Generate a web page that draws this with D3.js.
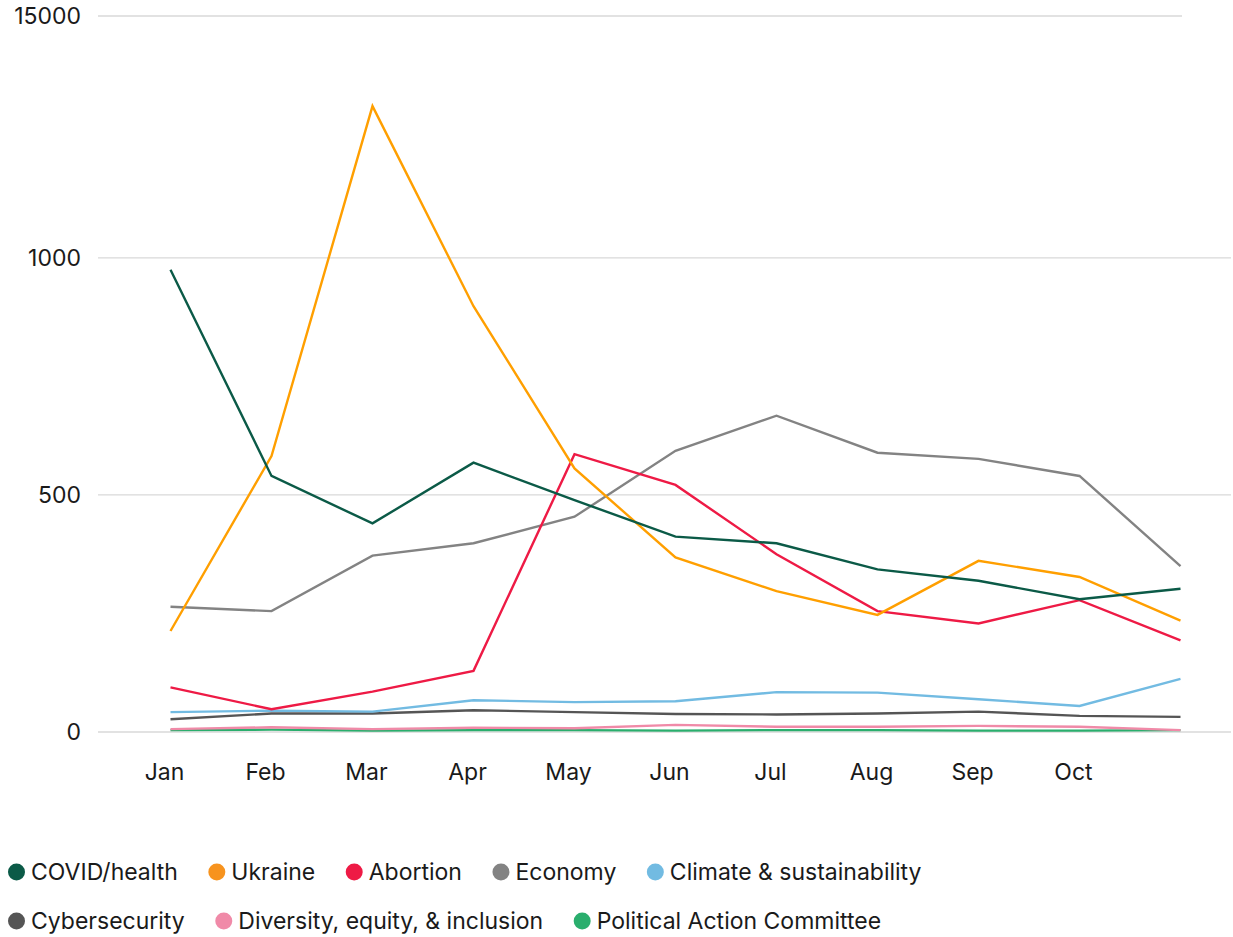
<!DOCTYPE html>
<html>
<head>
<meta charset="utf-8">
<script src="https://cdn.jsdelivr.net/npm/d3@7"></script>
<style>
  body { margin: 0; background: #fff; }
  svg { display: block; font-family: Inter, "Noto Sans", sans-serif; }
  .tick-label { font-size: 23px; fill: #1a1a1a; }
  .legend-label { font-size: 23px; fill: #1a1a1a; }
</style>
</head>
<body>
<div id="chart"></div>
<script>
const months = ["Jan", "Feb", "Mar", "Apr", "May", "Jun", "Jul", "Aug", "Sep", "Oct", "Nov"];
const monthLabels = ["Jan", "Feb", "Mar", "Apr", "May", "Jun", "Jul", "Aug", "Sep", "Oct", ""];

const covid = [975, 540, 440, 568, 489, 412, 398, 343, 319, 280, 302];
const ukraine = [213, 582, 1320, 898, 556, 368, 297, 247, 361, 327, 235];
const abortion = [94, 48, 85, 129, 586, 521, 375, 255, 229, 278, 193];
const economy = [264, 255, 372, 398, 454, 593, 667, 589, 576, 540, 350];
const climate = [42, 45, 43, 67, 63, 65, 84, 83, 69, 55, 112];
const cyber = [27, 39, 39, 46, 42, 38, 37, 39, 43, 34, 32];
const dei = [6, 10, 6, 9, 8, 15, 11, 11, 13, 11, 4];
const pac = [4, 5, 3, 4, 4, 3, 4, 4, 3, 3, 4];

const yTicks = [0, 500, 1000, 1510];
const yTickLabels = ["0", "500", "1000", "15000"];

const series = [
    { name: "COVID/health", values: covid, color: "#0b5a47", dot: "#0b5a47" },
    { name: "Ukraine", values: ukraine, color: "#ff9f00", dot: "#f7931e" },
    { name: "Abortion", values: abortion, color: "#ee1a45", dot: "#ee1a45" },
    { name: "Economy", values: economy, color: "#838383", dot: "#838383" },
    { name: "Climate & sustainability", values: climate, color: "#72bbe2", dot: "#72bbe2" },
    { name: "Cybersecurity", values: cyber, color: "#555555", dot: "#555555" },
    { name: "Diversity, equity, & inclusion", values: dei, color: "#f08aa8", dot: "#f08aa8" },
    { name: "Political Action Committee", values: pac, color: "#2aae6d", dot: "#2aae6d" }
];

const W = 1233, H = 937;
const svg = d3.select("#chart").append("svg")
    .attr("width", W)
    .attr("height", H);

const x = d3.scalePoint().domain(months).range([170.5, 1180.5]);
const y = d3.scaleLinear().domain([0, 1510]).range([732, 16]);

// gridlines
svg.append("g")
    .selectAll("line")
    .data(yTicks)
    .join("line")
    .attr("x1", 98)
    .attr("x2", (d, i) => i === yTicks.length - 1 ? 1182 : 1231)
    .attr("y1", d => y(d))
    .attr("y2", d => y(d))
    .attr("stroke", "#d9d9d9")
    .attr("stroke-width", 1.3);

// y tick labels
svg.append("g")
    .selectAll("text")
    .data(yTicks)
    .join("text")
    .attr("class", "tick-label")
    .attr("x", 81)
    .attr("y", d => y(d))
    .attr("dy", "0.36em")
    .attr("text-anchor", "end")
    .text((d, i) => yTickLabels[i]);

// x tick labels
svg.append("g")
    .selectAll("text")
    .data(months)
    .join("text")
    .attr("class", "tick-label")
    .attr("x", d => x(d) - 6)
    .attr("y", 780)
    .attr("text-anchor", "middle")
    .text((d, i) => monthLabels[i]);

const line = d3.line()
    .x((d, i) => x(months[i]))
    .y(d => y(d));

// draw small series first so the big ones sit on top
svg.append("g")
    .selectAll("path")
    .data(series.slice().reverse())
    .join("path")
    .attr("d", d => line(d.values))
    .attr("fill", "none")
    .attr("stroke", d => d.color)
    .attr("stroke-width", 2.4)
    .attr("stroke-linejoin", "miter");

// legend
const rows = [series.slice(0, 5), series.slice(5)];
const rowY = [872, 921];
rows.forEach((items, r) => {
    let cx = 16.5;
    items.forEach(s => {
        const g = svg.append("g").attr("transform", `translate(${cx}, ${rowY[r]})`);
        g.append("circle")
            .attr("r", 8.5)
            .attr("fill", s.dot);
        const t = g.append("text")
            .attr("class", "legend-label")
            .attr("x", 14.5)
            .attr("dy", "0.36em")
            .text(s.name);
        const w = t.node().getComputedTextLength();
        cx += 14.5 + w + 39;
    });
});
</script>
</body>
</html>
